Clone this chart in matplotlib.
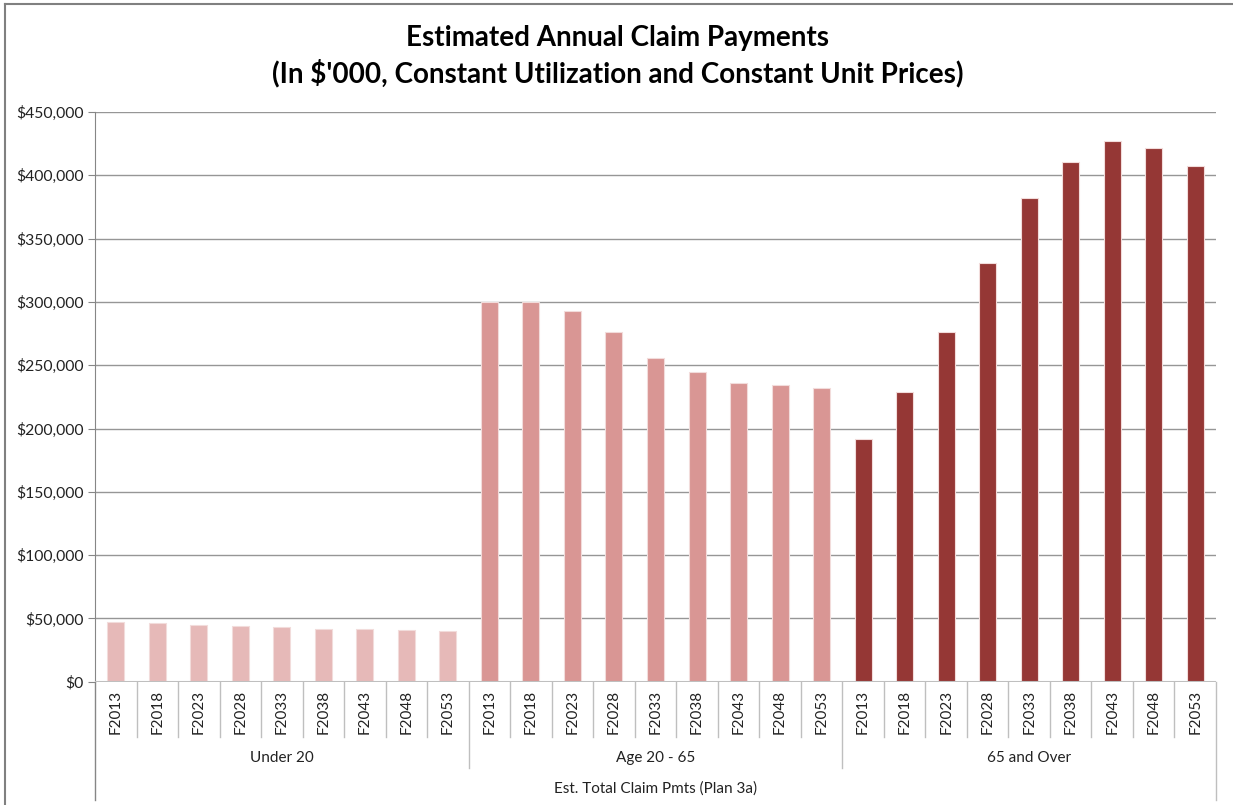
import numpy as np
import matplotlib.pyplot as plt
from matplotlib.lines import Line2D

plt.rcParams['font.family'] = ['Lato', 'DejaVu Sans']

years = ['F2013', 'F2018', 'F2023', 'F2028', 'F2033', 'F2038', 'F2043', 'F2048', 'F2053']
groups = ['Under 20', 'Age 20 - 65', '65 and Over']
under_20 = [47300, 46300, 45000, 44200, 42900, 41600, 41600, 40500, 39700]
age_20_65 = [300000, 300000, 293100, 276300, 255800, 245000, 236100, 234000, 231600]
over_65 = [191400, 228500, 276000, 330800, 382000, 410800, 427000, 421500, 407600]
group_colors = ['#E6B9B8', '#D99694', '#953735']
outer_label = 'Est. Total Claim Pmts (Plan 3a)'

fig = plt.figure(figsize=(12.33, 8.05), dpi=100)
ax = fig.add_axes([95 / 1233, 1 - 681.7 / 805, (1216 - 95) / 1233, (681.7 - 112) / 805])

n = len(years)
series = [under_20, age_20_65, over_65]
for g, (vals, col) in enumerate(zip(series, group_colors)):
    x = np.arange(n) + g * n + 0.5
    ax.bar(x, vals, width=0.41, color=col, edgecolor='#F2DCDB', linewidth=0.8, zorder=3)

total = n * len(groups)
ax.set_xlim(0, total)
ax.set_ylim(0, 450000)
ax.set_yticks(np.arange(0, 450001, 50000))
ax.set_yticklabels(['${:,.0f}'.format(v) for v in np.arange(0, 450001, 50000)])
ax.tick_params(axis='y', length=5, color='#868686', labelsize=11.3, pad=3, labelcolor='#222222')
ax.set_xticks([])
ax.grid(axis='y', color='#969696', linewidth=1, zorder=0)
for side in ['top', 'right', 'bottom']:
    ax.spines[side].set_visible(False)
ax.spines['left'].set_color('#868686')
ax.axhline(0, color='#BFBFBF', linewidth=1.5, zorder=4)

# multi-level category axis below the bars
tr = ax.get_xaxis_transform()
h = 569.7
for i in range(total + 1):
    if i % n == 0:
        y_end = -118 / h if i in (0, total) else -86 / h
    else:
        y_end = -55 / h
    col = '#868686' if i == 0 else '#BFBFBF'
    ax.add_line(Line2D([i, i], [0, y_end], transform=tr, color=col, linewidth=1, clip_on=False))

for g in range(len(groups)):
    for k, yr in enumerate(years):
        ax.text(g * n + k + 0.5, -8.5 / h, yr, transform=tr, rotation=90, ha='center', va='top',
                fontsize=11, color='#222222')
    ax.text(g * n + n / 2, -76 / h, groups[g], transform=tr, ha='center', va='center',
            fontsize=11, color='#222222')
ax.text(total / 2, -107 / h, outer_label, transform=tr, ha='center', va='center',
        fontsize=11, color='#222222')

fig.text(0.501, 1 - 38 / 805, 'Estimated Annual Claim Payments', ha='center', va='center',
         fontsize=20, fontweight='bold', color='black')
fig.text(0.501, 1 - 73 / 805, "(In $'000, Constant Utilization and Constant Unit Prices)", ha='center',
         va='center', fontsize=20, fontweight='bold', color='black')

# chart frame
fig.add_artist(Line2D([4.5 / 1233, 4.5 / 1233], [0, 1 - 4.5 / 805], transform=fig.transFigure,
                      color='#808080', linewidth=1.5))
fig.add_artist(Line2D([4.5 / 1233, 1], [1 - 4.5 / 805, 1 - 4.5 / 805], transform=fig.transFigure,
                      color='#808080', linewidth=1.5))

fig.savefig('out.png', dpi=100)
